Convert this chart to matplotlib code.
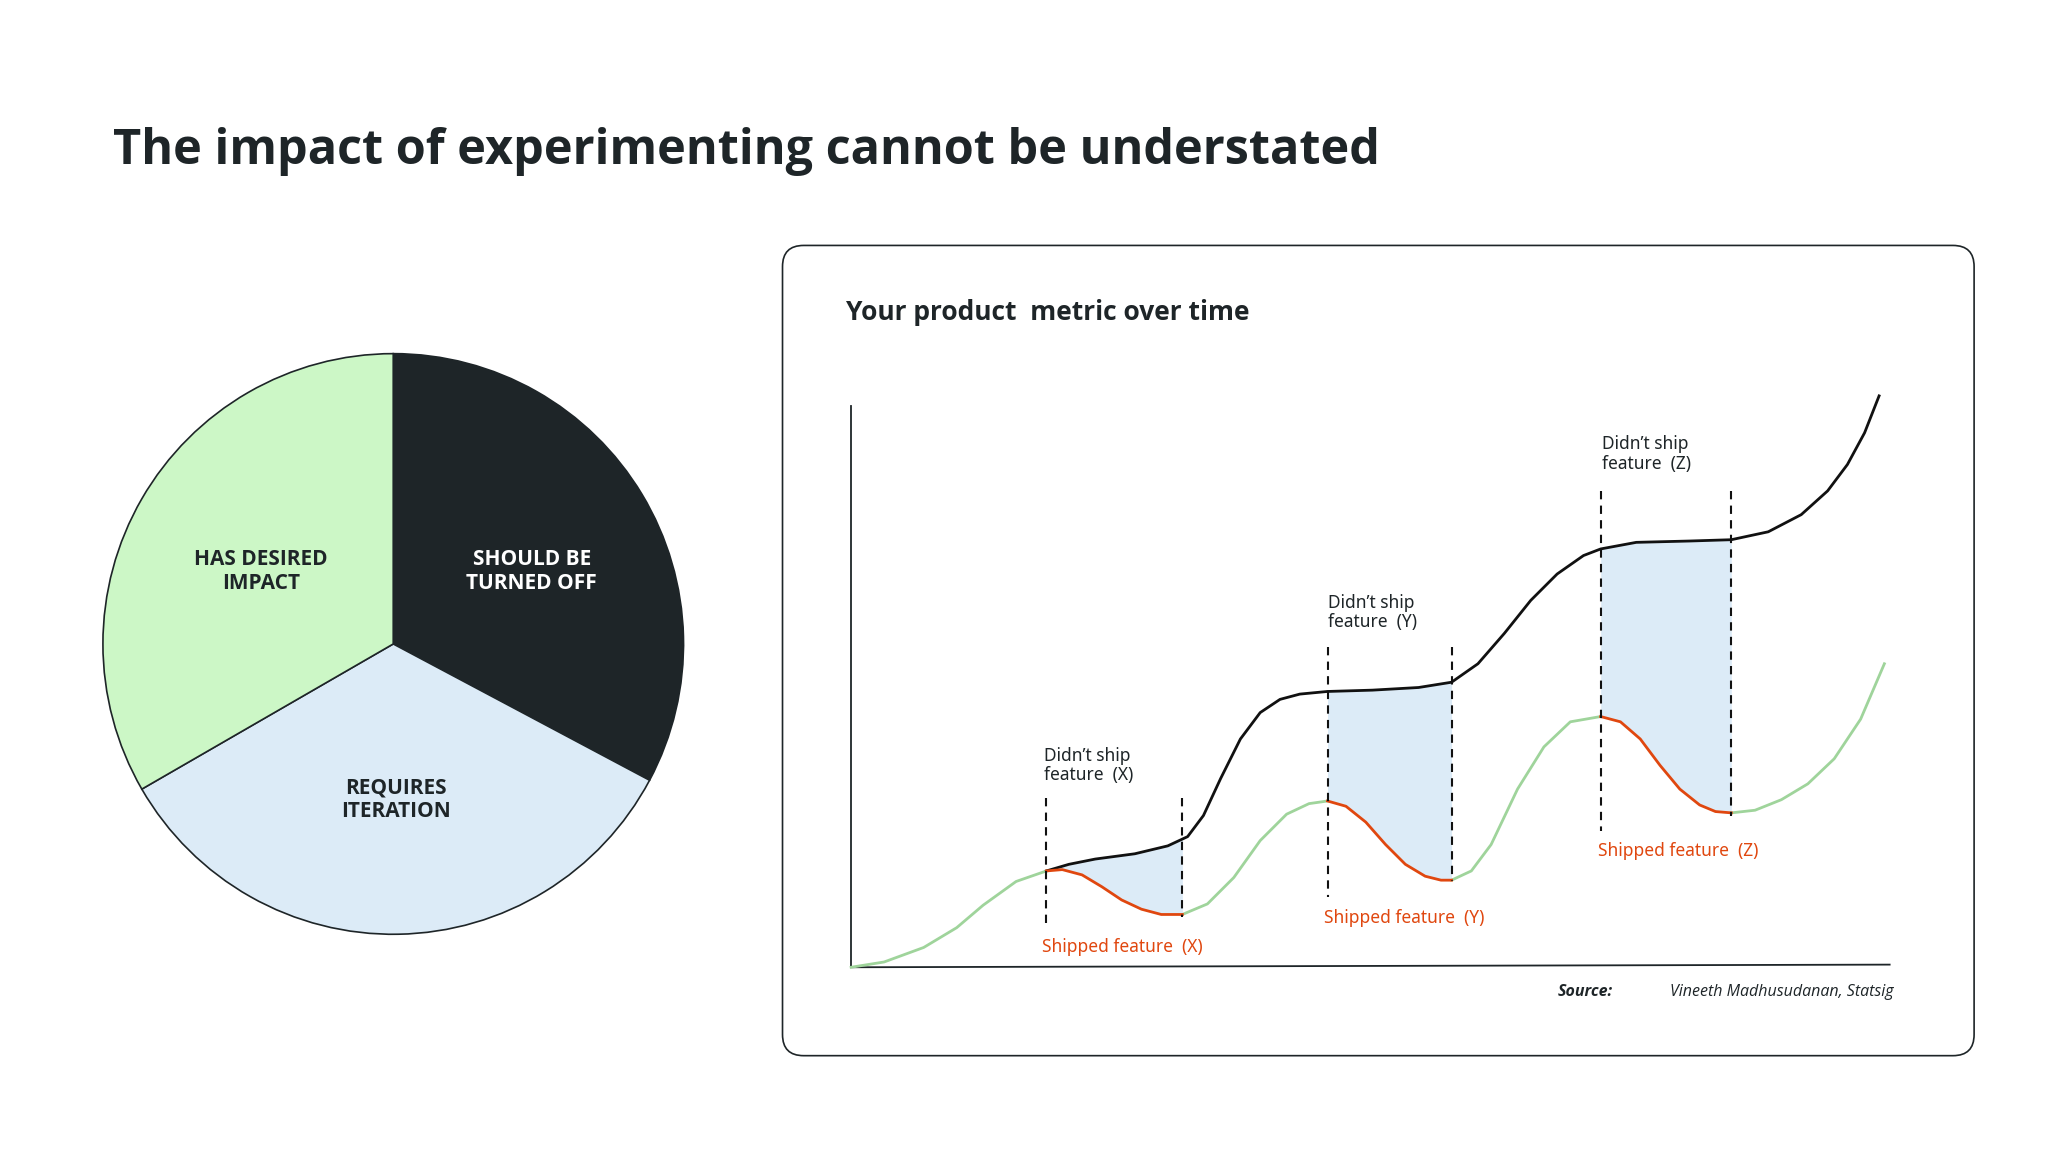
import numpy as np
import matplotlib
matplotlib.use("Agg")
import matplotlib.pyplot as plt
from matplotlib.patches import FancyBboxPatch

# ---- data (image-pixel coordinates of a 1552x873 view) ----
pie_labels = ["SHOULD BE\nTURNED OFF", "REQUIRES\nITERATION", "HAS DESIRED\nIMPACT"]
pie_values = [118, 122, 120]
pie_colors = ["#1e2528", "#dcebf7", "#ccf7c6"]
pie_label_pos = [(403, 433), (300, 606), (198, 433)]
pie_label_colors = ["white", "#1e2528", "#1e2528"]

green_segments = [
    ([645, 670, 700, 725, 745, 770, 793], [733, 729, 718, 703, 686, 668, 660]),
    ([896, 915, 935, 955, 975, 992, 1006], [693, 685, 665, 637, 617, 609, 607]),
    ([1100, 1115, 1130, 1150, 1170, 1190, 1213], [667, 660, 640, 598, 566, 547, 543]),
    ([1312, 1330, 1350, 1370, 1390, 1410, 1428], [616, 614, 606, 594, 575, 545, 503]),
]
black_x = [793, 810, 830, 860, 885, 900, 912, 925, 940, 955, 970, 985, 1006, 1040, 1075, 1100,
           1120, 1140, 1160, 1180, 1200, 1213, 1240, 1280, 1312, 1340, 1365, 1385, 1400, 1413, 1424]
black_y = [660, 655, 651, 647, 641, 634, 618, 590, 560, 540, 530, 526, 524, 523, 521, 517,
           503, 480, 455, 435, 421, 416, 411, 410, 409, 403, 390, 372, 352, 328, 300]
red_segments = [
    ([793, 805, 820, 835, 850, 865, 880, 896], [660, 659, 663, 672, 682, 689, 693, 693]),
    ([1006, 1020, 1035, 1050, 1065, 1080, 1092, 1100], [607, 611, 623, 640, 655, 664, 667, 667]),
    ([1213, 1228, 1243, 1258, 1273, 1288, 1300, 1312], [543, 547, 560, 580, 598, 610, 615, 616]),
]
dash_x = [793, 896, 1006, 1100, 1213, 1312]
dash_top = [605, 605, 490, 490, 372, 372]
dash_bot = [700, 695, 680, 668, 630, 618]
ship_labels = ["Shipped feature  (X)", "Shipped feature  (Y)", "Shipped feature  (Z)"]
ship_pos = [(790, 718), (1003, 696), (1211, 645)]
didnt_labels = ["Didn\u2019t ship\nfeature  (X)", "Didn\u2019t ship\nfeature  (Y)", "Didn\u2019t ship\nfeature  (Z)"]
didnt_pos = [(791, 580), (1006, 464), (1214, 344)]

W, H = 1552, 873
fig = plt.figure(figsize=(20.48, 11.52), dpi=100)
ax = fig.add_axes([0, 0, 1, 1])

fig.text(86 / W, 1 - 115 / H, "The impact of experimenting cannot be understated",
         fontsize=35, fontweight="bold", family="Open Sans", color="#1e2528", va="center")

# pie (y axis is inverted, so counterclockwise in data = clockwise on screen)
ax.pie(pie_values, colors=pie_colors, startangle=-90, counterclock=True, center=(298, 488),
       radius=220, wedgeprops=dict(edgecolor="#1e2528", linewidth=1.2), frame=True)
ax.set_aspect("auto")
ax.set_xlim(0, W)
ax.set_ylim(H, 0)
ax.axis("off")
for lab, (x, y), c in zip(pie_labels, pie_label_pos, pie_label_colors):
    ax.text(x, y, lab, ha="center", va="center", fontsize=15, fontweight="bold",
            color=c, family="Open Sans", linespacing=1.2)

# panel
panel = FancyBboxPatch((593, 186), 903, 614, boxstyle="round,pad=0,rounding_size=16",
                       facecolor="white", edgecolor="#1e2528", linewidth=1.2)
ax.add_patch(panel)
ax.text(641, 237, "Your product  metric over time", fontsize=19, fontweight="bold",
        family="Open Sans", color="#1e2528", va="center")

# axes lines
ax.plot([645, 645], [308, 733], color="#1e2528", lw=1.3)
ax.plot([645, 1432], [733, 731], color="#1e2528", lw=1.3)

bx = np.array(black_x, float); by = np.array(black_y, float)
for rx, ry in red_segments:
    top = np.interp(rx, bx, by)
    ax.fill_between(rx, top, ry, color="#dcebf7", lw=0)
for gx, gy in green_segments:
    ax.plot(gx, gy, color="#9fd49b", lw=2, solid_joinstyle="round")
ax.plot(bx, by, color="#111111", lw=2, solid_joinstyle="round")
for rx, ry in red_segments:
    ax.plot(rx, ry, color="#e0470f", lw=2, solid_joinstyle="round")
for x, t, b in zip(dash_x, dash_top, dash_bot):
    ax.plot([x, x], [t, b], color="#111111", lw=1.5, ls=(0, (4, 3)))
for lab, (x, y) in zip(ship_labels, ship_pos):
    ax.text(x, y, lab, fontsize=12.5, color="#e0470f", va="center", family="Noto Sans")
for lab, (x, y) in zip(didnt_labels, didnt_pos):
    ax.text(x, y, lab, fontsize=12.5, color="#1e2528", va="center", family="Noto Sans",
            linespacing=1.1)

src = ax.text(1435, 752, "Vineeth Madhusudanan, Statsig", fontsize=11.5, family="Open Sans",
              style="italic", ha="right", va="center", color="#1e2528")
ax.text(1222, 752, "Source:", fontsize=11.5, family="Open Sans", style="italic",
        fontweight="bold", ha="right", va="center", color="#1e2528")

fig.savefig("out.png", dpi=100, facecolor="white")
